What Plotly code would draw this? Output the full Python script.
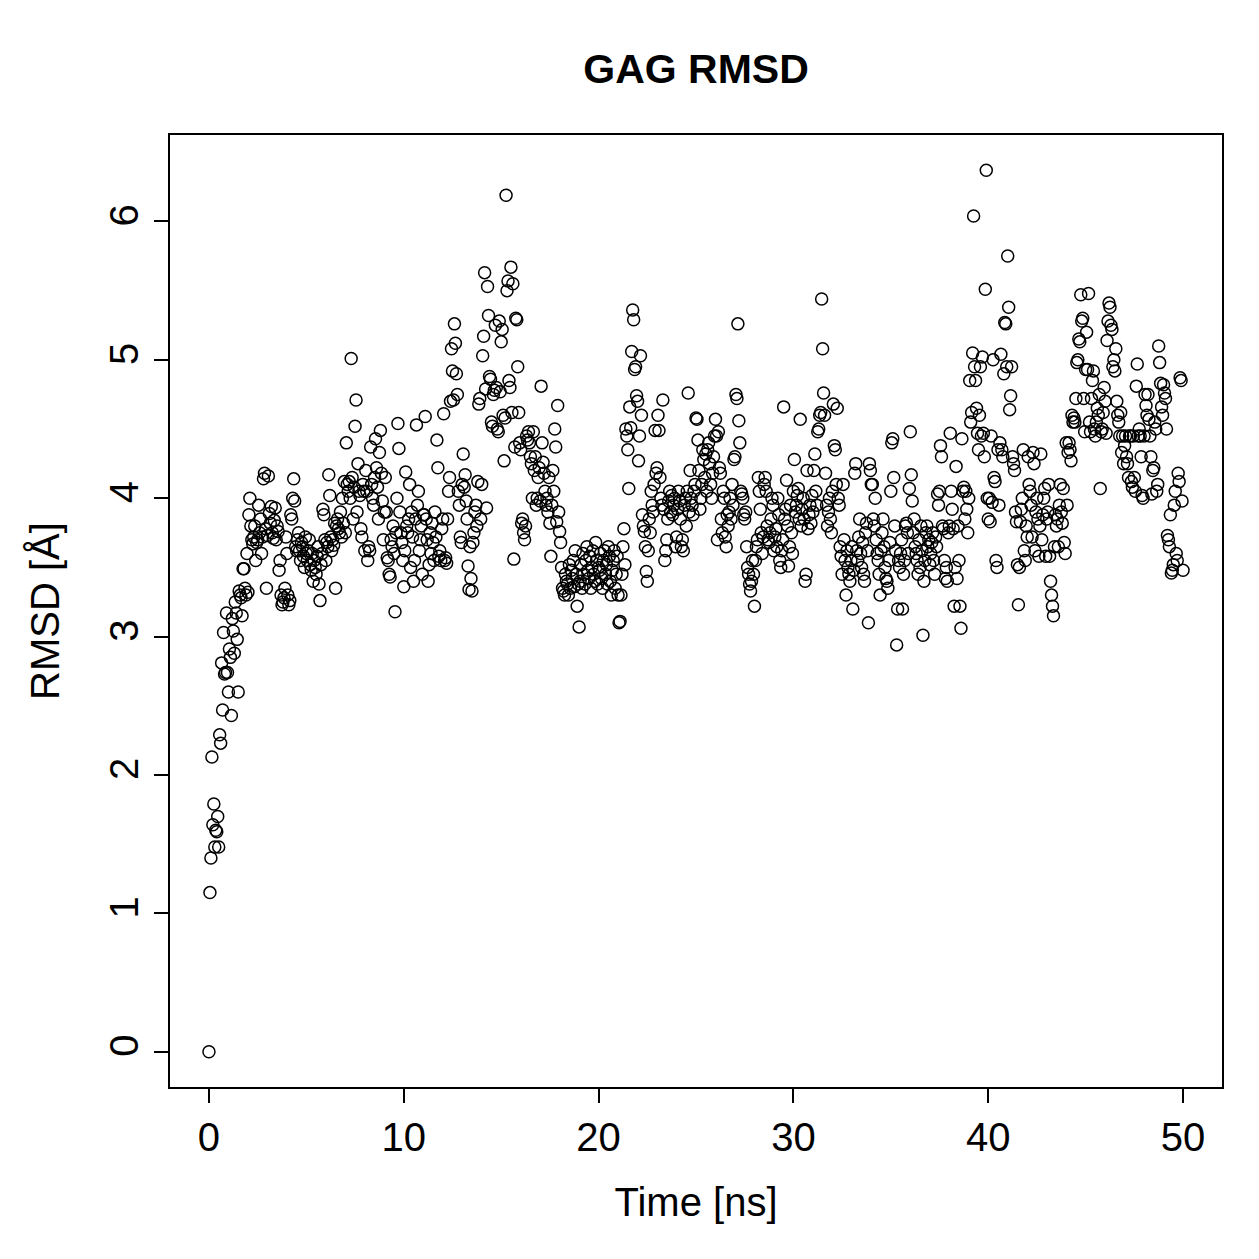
import plotly.graph_objects as go

time_step_ns = 0.05
rmsd = [
    0.00,
    1.15,1.40,2.13,1.64,1.79,1.48,1.60,1.59,1.70,1.48,2.29,2.23,2.81,2.47,3.03,2.73,2.74,3.17,2.74,2.60,
    2.91,2.85,2.43,3.13,3.04,2.88,3.25,3.17,2.98,2.60,3.33,3.30,3.28,3.15,3.49,3.49,3.35,3.30,3.60,3.32,
    3.88,4.00,3.80,3.70,3.67,3.72,3.80,3.55,3.68,3.70,3.95,3.75,3.85,3.60,3.72,4.14,4.18,3.78,3.35,3.73,
    4.16,3.89,3.82,3.94,3.75,3.71,3.84,3.93,3.70,3.80,3.76,3.48,3.55,3.30,3.23,3.25,3.28,3.35,3.72,3.60,
    3.30,3.23,3.26,3.88,3.85,4.00,4.14,3.98,3.65,3.62,3.70,3.75,3.62,3.55,3.68,3.65,3.58,3.50,3.72,3.60,
    3.55,3.62,3.70,3.52,3.48,3.60,3.40,3.55,3.50,3.45,3.58,3.65,3.38,3.26,3.52,3.60,3.92,3.88,3.70,3.55,
    3.68,3.65,4.17,4.02,3.72,3.62,3.70,3.66,3.82,3.35,3.80,3.85,3.78,3.75,3.90,3.72,4.00,3.82,4.12,3.75,
    4.40,4.10,4.05,4.12,4.00,5.01,4.15,3.85,4.08,4.52,4.71,3.90,4.25,4.05,4.02,3.78,3.72,4.10,4.05,3.62,
    4.20,4.05,3.55,3.65,3.62,4.37,4.10,4.00,3.95,4.15,4.43,4.22,4.08,3.85,4.33,4.49,4.18,3.98,3.70,3.90,
    4.15,3.90,3.57,3.55,3.45,3.43,3.70,3.65,3.80,3.60,3.18,3.75,4.00,4.54,4.36,3.90,3.75,3.68,3.55,3.36,
    3.62,4.19,3.80,3.75,3.85,4.10,3.50,3.90,3.72,3.40,3.55,3.85,4.53,3.95,4.05,3.62,3.70,3.80,3.45,3.88,
    3.88,4.59,3.85,3.70,3.40,3.52,3.75,3.60,3.82,3.68,3.55,3.90,3.72,4.42,4.22,3.58,3.62,3.55,3.78,3.85,
    4.61,3.55,3.57,3.53,3.85,4.05,4.15,4.70,5.08,4.92,4.71,5.26,5.12,4.90,4.75,4.05,3.95,3.72,3.68,4.10,
    4.32,4.08,4.17,3.98,3.85,3.51,3.34,3.65,3.42,3.33,3.68,3.75,3.90,3.95,3.80,4.12,4.68,4.72,3.85,4.10,
    5.03,5.17,5.63,4.79,3.93,5.53,5.32,4.88,4.86,4.55,4.52,4.75,4.78,5.25,4.80,4.50,4.48,5.28,4.77,5.13,
    5.22,4.60,4.27,4.58,6.19,5.50,5.57,4.85,4.80,5.67,4.62,5.55,3.56,4.37,5.30,5.29,4.95,4.62,4.40,4.35,
    3.82,3.85,3.75,3.70,3.80,4.45,4.42,4.48,4.40,4.30,4.25,4.00,4.48,4.20,4.30,3.95,4.00,4.15,4.22,3.98,
    4.81,4.40,4.26,4.18,4.05,3.95,4.00,3.90,4.15,3.82,3.58,3.95,4.20,4.05,4.50,4.37,3.83,4.67,3.90,3.76,
    3.68,3.50,3.35,3.33,3.30,3.45,3.40,3.38,3.30,3.52,3.35,3.48,3.42,3.55,3.36,3.62,3.45,3.22,3.38,3.07,
    3.40,3.52,3.35,3.60,3.45,3.38,3.55,3.65,3.48,3.42,3.58,3.35,3.50,3.62,3.45,3.40,3.68,3.55,3.38,3.50,
    3.48,3.60,3.42,3.35,3.55,3.62,3.45,3.52,3.38,3.65,3.58,3.40,3.30,3.48,3.55,3.62,3.35,3.45,3.58,3.30,
    3.10,3.11,3.30,3.45,3.65,3.78,3.52,4.50,4.45,4.35,4.07,4.66,4.51,5.06,5.36,5.29,4.93,4.95,4.74,4.70,
    4.27,4.45,5.03,4.60,3.88,3.80,3.76,3.65,3.47,3.40,3.62,3.85,3.75,4.05,3.95,3.90,4.10,4.49,4.18,4.22,
    4.60,4.49,4.15,4.00,3.95,4.71,3.92,3.55,3.62,3.70,3.85,3.98,4.05,3.90,4.02,3.88,3.95,4.00,3.65,3.72,
    3.92,4.05,3.98,3.85,3.65,3.70,3.62,3.95,4.00,3.80,4.05,4.76,3.90,4.20,4.00,3.95,3.88,4.05,4.10,4.58,
    4.57,4.42,4.20,3.92,4.00,4.10,4.35,4.28,4.15,4.32,4.05,4.35,4.40,4.25,4.10,4.00,4.18,4.30,4.45,4.57,
    4.45,3.70,4.48,4.22,4.18,3.85,3.75,4.05,4.00,3.72,3.65,3.88,3.80,3.90,4.00,3.85,4.10,3.95,4.28,4.30,
    4.75,4.72,5.26,4.56,4.40,4.05,4.03,4.00,3.88,3.85,3.90,3.65,3.50,3.45,3.38,3.33,3.40,3.55,3.45,3.22,
    3.55,3.65,3.70,4.15,4.05,3.92,3.75,3.60,3.72,4.10,4.15,4.05,3.80,3.70,3.68,3.75,3.85,4.00,3.95,3.62,
    3.72,3.78,3.65,4.00,3.88,3.55,3.50,3.62,3.70,4.66,3.85,3.92,4.13,3.80,3.51,3.65,3.95,3.75,3.60,4.05,
    4.28,3.90,3.95,4.02,4.07,3.85,4.57,3.80,3.92,4.00,3.85,3.40,3.45,4.20,3.78,3.88,3.95,3.82,4.02,3.90,
    4.20,4.32,4.05,3.95,4.48,4.50,4.60,4.62,5.44,5.08,4.76,4.60,4.18,3.95,3.80,3.90,4.00,3.85,3.75,4.05,
    4.68,4.38,4.35,4.10,4.65,4.00,3.95,3.65,3.58,3.45,4.10,3.70,3.55,3.30,3.62,3.50,3.45,3.40,3.55,3.65,
    3.20,3.48,4.18,4.25,3.62,3.55,3.72,3.85,3.60,3.50,3.68,3.45,3.40,3.75,3.82,3.62,3.10,4.25,4.20,4.10,
    4.10,3.85,3.80,4.00,3.70,3.60,3.55,3.45,3.30,3.62,3.75,3.85,3.65,3.50,3.42,3.40,3.35,3.55,3.68,4.05,
    4.40,4.43,4.15,3.80,3.62,2.94,3.20,3.55,3.50,3.60,3.70,3.20,3.45,3.55,3.80,3.82,3.75,3.60,4.07,4.48,
    4.17,3.98,3.75,3.85,3.65,3.60,3.55,3.45,3.70,3.50,3.80,3.62,3.01,3.40,3.55,3.75,3.80,3.65,3.70,3.52,
    3.60,3.68,3.75,3.55,3.45,3.72,3.65,4.03,3.95,4.05,4.38,4.30,3.80,3.78,3.55,3.42,3.50,3.40,3.75,3.80,
    4.47,4.05,3.92,3.78,3.22,3.50,4.23,3.42,3.80,3.55,3.22,3.06,4.43,4.05,4.08,3.85,4.05,3.92,3.75,4.00,
    4.85,4.55,4.62,5.05,6.04,4.95,4.85,4.65,4.47,4.35,4.60,4.95,4.45,5.02,4.47,4.30,5.51,6.37,4.00,3.85,
    4.00,3.83,4.45,3.97,5.00,4.15,4.12,3.55,3.50,4.35,3.95,4.40,5.04,4.35,4.30,4.90,5.27,5.26,4.95,5.75,
    5.38,4.64,4.74,4.95,4.30,4.25,4.20,3.90,3.83,3.52,3.23,3.50,3.83,3.92,4.00,4.35,3.62,3.55,3.80,3.72,
    4.30,4.10,4.05,3.95,3.72,4.33,4.25,3.62,3.90,4.00,3.85,3.58,3.80,4.32,3.70,3.88,4.00,4.07,3.58,3.85,
    3.90,4.10,3.58,3.40,3.30,3.22,3.15,3.65,3.88,3.80,3.85,3.65,3.95,4.10,3.90,3.82,4.07,3.68,3.60,4.40,
    3.95,4.33,4.40,4.35,4.27,4.60,4.55,4.58,4.55,4.72,4.98,5.00,5.15,5.13,5.47,5.28,5.30,4.72,4.48,4.93,
    5.20,4.93,5.48,4.55,4.48,4.72,4.85,4.92,4.50,4.45,4.55,4.65,4.60,4.75,4.07,4.48,4.50,4.62,4.80,4.70,
    4.47,5.14,5.28,5.41,5.38,5.25,5.22,4.95,5.00,4.92,5.08,4.70,4.60,4.55,4.45,4.62,4.33,4.45,4.25,4.38,
    4.45,4.30,4.25,4.15,4.45,4.45,4.12,4.08,4.45,4.15,4.05,4.81,4.97,4.45,4.50,4.45,4.30,4.02,4.00,4.45,
    4.75,4.67,4.60,4.75,4.57,4.45,4.30,4.03,4.20,4.22,4.55,4.50,4.05,4.10,5.10,4.98,4.83,4.66,4.60,4.82,
    4.76,4.72,4.50,3.73,3.70,3.65,3.88,3.46,3.48,3.52,3.95,4.05,3.60,3.55,4.18,4.12,4.87,4.85,3.98,3.48,
]
time_ns = [round(i * time_step_ns, 2) for i in range(len(rmsd))]

x_ticks = [0, 10, 20, 30, 40, 50]
y_ticks = [0, 1, 2, 3, 4, 5, 6]
title_text = "GAG RMSD"
x_label = "Time [ns]"
y_label = "RMSD [Å]"

FONT = "Liberation Sans, Arial, Helvetica, sans-serif"

fig = go.Figure()
fig.add_trace(go.Scatter(
    x=time_ns, y=rmsd, mode="markers",
    marker=dict(symbol="circle-open", size=12, color="black", line=dict(width=1.5, color="black")),
    hoverinfo="x+y", showlegend=False,
))

fig.update_layout(
    width=1259, height=1259,
    paper_bgcolor="white", plot_bgcolor="white",
    margin=dict(l=170, r=37, t=135, b=172),
    font=dict(family=FONT, size=40, color="black"),
    title=dict(text="<b>" + title_text + "</b>", x=696 / 1259, xanchor="center",
               y=1 - 69 / 1259, yanchor="middle", yref="container",
               font=dict(family=FONT, size=41, color="black")),
    xaxis=dict(range=[-2, 52], tickmode="array", tickvals=x_ticks,
               showgrid=False, zeroline=False,
               showline=True, mirror=True, linecolor="black", linewidth=2,
               ticks="outside", ticklen=14, tickwidth=2, tickcolor="black",
               tickfont=dict(family=FONT, size=40, color="black"),
               title=dict(text=x_label, standoff=30, font=dict(family=FONT, size=40, color="black"))),
    yaxis=dict(range=[-0.2548, 6.6248], tickmode="array", tickvals=y_ticks,
               showgrid=False, zeroline=False,
               showline=True, mirror=True, linecolor="black", linewidth=2,
               ticks="outside", ticklen=14, tickwidth=2, tickcolor="black",
               tickangle=-90,
               tickfont=dict(family=FONT, size=40, color="black"),
               title=dict(text=y_label, standoff=30, font=dict(family=FONT, size=40, color="black"))),
)

fig.write_html("out.html")
